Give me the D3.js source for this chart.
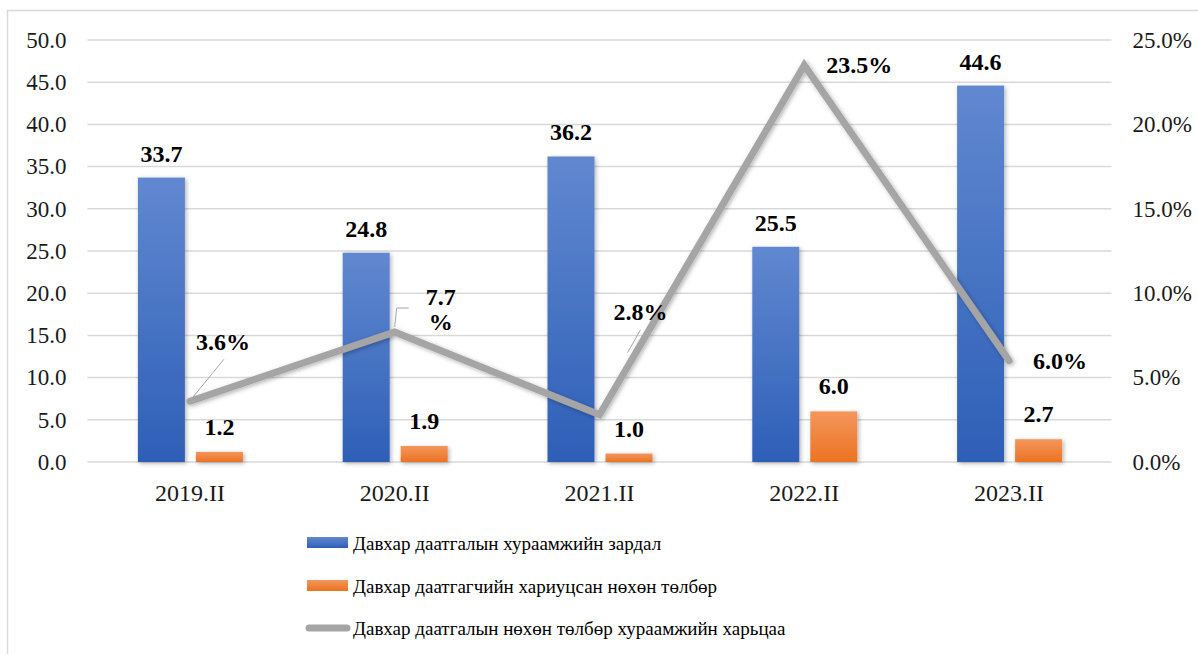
<!DOCTYPE html>
<html>
<head>
<meta charset="utf-8">
<script src="https://cdn.jsdelivr.net/npm/d3@7"></script>
<style>
  body { margin: 0; background: #fff; }
  svg { display: block; font-family: "Liberation Serif", "Times New Roman", serif; }
</style>
</head>
<body>
<div id="chart-area"></div>
<script>
// data
var categories = ["2019.II", "2020.II", "2021.II", "2022.II", "2023.II"];
var premium = [33.7, 24.8, 36.2, 25.5, 44.6];     // хураамжийн зардал
var claims = [1.2, 1.9, 1.0, 6.0, 2.7];           // хариуцсан нөхөн төлбөр
var ratio = [0.036, 0.077, 0.028, 0.235, 0.060];  // харьцаа
var ratioLabels = [["3.6%"], ["7.7", "%"], ["2.8%"], ["23.5%"], ["6.0%"]];
var leftTicks = [0, 5, 10, 15, 20, 25, 30, 35, 40, 45, 50];
var rightTicks = [0, 0.05, 0.10, 0.15, 0.20, 0.25];
var legendNames = [
  "Давхар даатгалын хураамжийн зардал",
  "Давхар даатгагчийн хариуцсан нөхөн төлбөр",
  "Давхар даатгалын нөхөн төлбөр хураамжийн харьцаа"
];

var width = 1198, height = 654;
var margin = { left: 87.5, right: 86.5, top: 40, bottom: 192 };

var svg = d3.select("#chart-area")
  .append("svg")
    .attr("width", width)
    .attr("height", height);

var defs = svg.append("defs");

function grad(id, top, bottom) {
  var g = defs.append("linearGradient").attr("id", id)
    .attr("x1", 0).attr("y1", 0).attr("x2", 0).attr("y2", 1);
  g.append("stop").attr("offset", "0%").attr("stop-color", top);
  g.append("stop").attr("offset", "100%").attr("stop-color", bottom);
}
grad("gBlue", "#6188d0", "#2e5fb7");
grad("gOrange", "#f4965c", "#eb7321");

var sh = defs.append("filter").attr("id", "shadow")
  .attr("x", "-20%").attr("y", "-20%").attr("width", "140%").attr("height", "140%");
sh.append("feDropShadow").attr("dx", 1.5).attr("dy", 1.5).attr("stdDeviation", 2)
  .attr("flood-color", "#000").attr("flood-opacity", 0.3);

// outer frame
svg.append("rect")
  .attr("x", 7.5).attr("y", 10.5)
  .attr("width", width + 20).attr("height", height + 20)
  .attr("fill", "none").attr("stroke", "#d9d9d9").attr("stroke-width", 1.5);

var x = d3.scaleBand()
  .domain(categories)
  .range([margin.left, width - margin.right])
  .padding(0);

var xSub = d3.scaleBand()
  .domain(["premium", "claims"])
  .range([-52, 53])
  .paddingInner(0.19);

var y = d3.scaleLinear().domain([0, 50]).range([height - margin.bottom, margin.top]);
var y2 = d3.scaleLinear().domain([0, 0.25]).range([height - margin.bottom, margin.top]);

var cx = function(c) { return x(c) + x.bandwidth() / 2; };

// gridlines
svg.append("g")
  .selectAll("line")
  .data(leftTicks)
  .join("line")
    .attr("x1", margin.left).attr("x2", width - margin.right)
    .attr("y1", d => y(d)).attr("y2", d => y(d))
    .attr("stroke", "#d9d9d9").attr("stroke-width", 1.5);

// axes
var axL = svg.append("g")
  .attr("transform", "translate(" + margin.left + ",0)")
  .call(d3.axisLeft(y).tickValues(leftTicks).tickFormat(d3.format(".1f")).tickSize(0).tickPadding(21));
var axR = svg.append("g")
  .attr("transform", "translate(" + (width - margin.right) + ",0)")
  .call(d3.axisRight(y2).tickValues(rightTicks).tickFormat(d3.format(".1%")).tickSize(0).tickPadding(21));
var axB = svg.append("g")
  .attr("transform", "translate(0," + (height - margin.bottom) + ")")
  .call(d3.axisBottom(x).tickSize(0).tickPadding(22));

[axL, axR, axB].forEach(function(a) {
  a.select(".domain").remove();
  a.selectAll("text")
    .attr("font-family", "'Liberation Serif', 'Times New Roman', serif")
    .attr("font-size", 23)
    .attr("fill", "#1a1a1a");
});
axB.selectAll("text").attr("font-size", 24);

// bars
var bars = svg.append("g").attr("filter", "url(#shadow)");
bars.selectAll("rect.p")
  .data(premium)
  .join("rect")
    .attr("class", "p")
    .attr("x", (d, i) => cx(categories[i]) + xSub("premium"))
    .attr("width", xSub.bandwidth())
    .attr("y", d => y(d))
    .attr("height", d => y(0) - y(d))
    .attr("fill", "url(#gBlue)");
bars.selectAll("rect.c")
  .data(claims)
  .join("rect")
    .attr("class", "c")
    .attr("x", (d, i) => cx(categories[i]) + xSub("claims"))
    .attr("width", xSub.bandwidth())
    .attr("y", d => y(d))
    .attr("height", d => y(0) - y(d))
    .attr("fill", "url(#gOrange)");

// bar labels
function labelGroup() {
  return svg.append("g")
    .attr("font-family", "'Liberation Serif', 'Times New Roman', serif")
    .attr("font-weight", "bold")
    .attr("font-size", 24)
    .attr("fill", "#000")
    .attr("text-anchor", "middle");
}
var lab = labelGroup();

lab.selectAll("text.p")
  .data(premium)
  .join("text")
    .attr("class", "p")
    .attr("x", (d, i) => cx(categories[i]) + xSub("premium") + xSub.bandwidth() / 2)
    .attr("y", d => y(d) - 16)
    .text(d => d3.format(".1f")(d));
lab.selectAll("text.c")
  .data(claims)
  .join("text")
    .attr("class", "c")
    .attr("x", (d, i) => cx(categories[i]) + xSub("claims") + xSub.bandwidth() / 2)
    .attr("y", d => y(d) - 17)
    .text(d => d3.format(".1f")(d));

// ratio line
var line = d3.line()
  .x((d, i) => cx(categories[i]))
  .y(d => y2(d));

svg.append("path")
  .datum(ratio)
  .attr("d", line)
  .attr("fill", "none")
  .attr("stroke", "#a5a5a5")
  .attr("stroke-width", 7)
  .attr("stroke-linejoin", "miter")
  .attr("stroke-linecap", "round")
  .attr("filter", "url(#shadow)");

// ratio labels: offsets relative to the point (label centre / first baseline)
var ratioOffsets = [[33, -51], [46, -27], [41, -95], [55, 8], [51, 8]];
// leader lines, relative to the point
var leaders = [
  [[3, -4], [34, -42]],
  [[0, -5], [2, -24], [14, -24]],
  [[28, -62], [41, -85]],
  null,
  null
];

var leaderG = svg.append("g")
  .attr("fill", "none").attr("stroke", "#a5a5a5").attr("stroke-width", 1);
leaders.forEach(function(pts, i) {
  if (!pts) return;
  var px = cx(categories[i]), py = y2(ratio[i]);
  leaderG.append("path")
    .attr("d", d3.line()(pts.map(p => [px + p[0], py + p[1]])));
});

var lab2 = labelGroup();
ratioLabels.forEach(function(lines, i) {
  var px = cx(categories[i]), py = y2(ratio[i]);
  var t = lab2.append("text")
    .attr("x", px + ratioOffsets[i][0])
    .attr("y", py + ratioOffsets[i][1]);
  lines.forEach(function(s, k) {
    t.append("tspan")
      .attr("x", px + ratioOffsets[i][0])
      .attr("dy", k === 0 ? 0 : 25)
      .text(s);
  });
});

// legend
var legend = svg.append("g").attr("transform", "translate(307,0)");
var legY = [543, 586, 628];
legend.append("rect")
  .attr("x", 0).attr("y", legY[0] - 6).attr("width", 41).attr("height", 11)
  .attr("fill", "url(#gBlue)");
legend.append("rect")
  .attr("x", 0).attr("y", legY[1] - 6).attr("width", 41).attr("height", 11)
  .attr("fill", "url(#gOrange)");
legend.append("line")
  .attr("x1", 2).attr("x2", 40).attr("y1", legY[2]).attr("y2", legY[2])
  .attr("stroke", "#a5a5a5").attr("stroke-width", 7).attr("stroke-linecap", "round");

legend.selectAll("text")
  .data(legendNames)
  .join("text")
    .attr("x", 46)
    .attr("y", (d, i) => legY[i] + 7)
    .attr("font-family", "'Liberation Serif', 'Times New Roman', serif")
    .attr("font-size", 19)
    .attr("fill", "#000")
    .text(d => d);
</script>
</body>
</html>
